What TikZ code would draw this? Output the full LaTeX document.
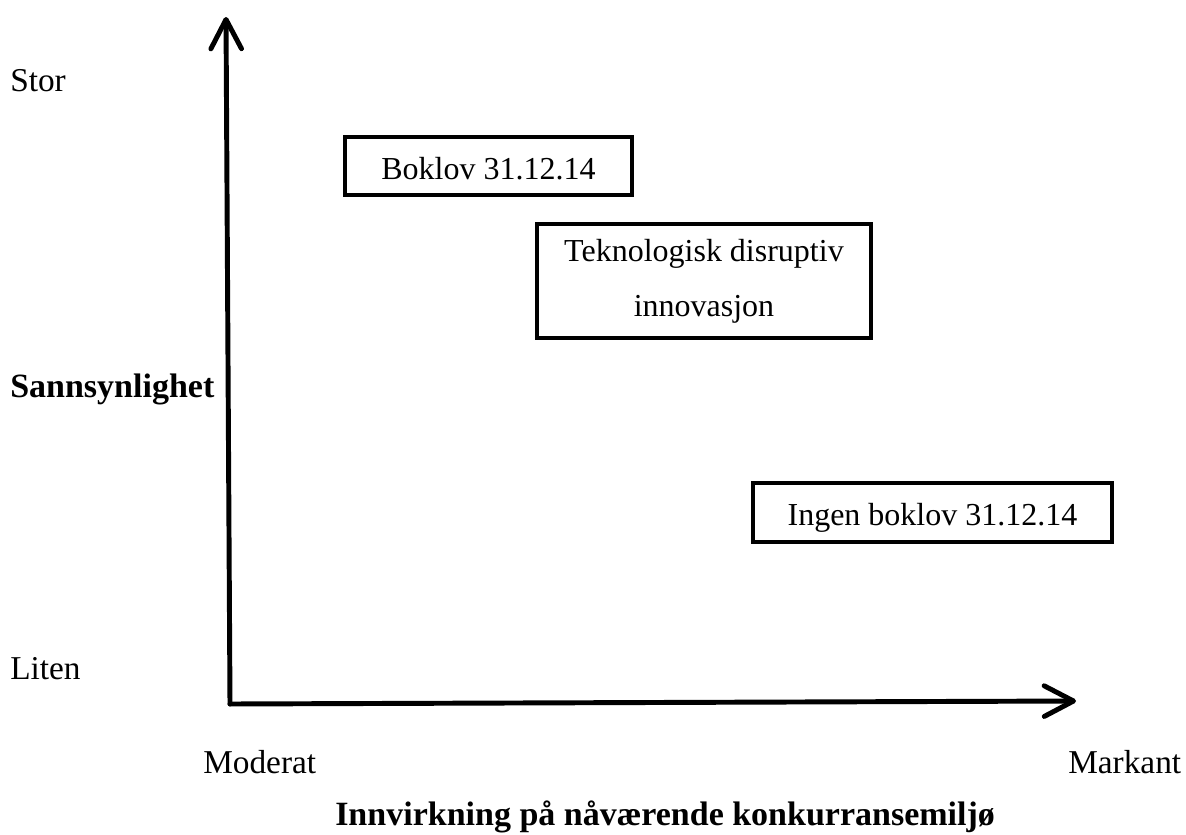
\documentclass[tikz,border=0pt]{standalone}
\usepackage{fontspec}
\setmainfont{Liberation Serif}
\usetikzlibrary{arrows.meta, positioning}

\begin{document}
\begin{tikzpicture}[
    x=0.75pt, y=-0.75pt,
    axis/.style={line width=3.7pt, line cap=round,
                 -{Straight Barb[length=22pt, width=23pt, round]}},
    box/.style={rectangle, draw=black, line width=3.7pt, fill=white,
                font=\fontsize{24}{41}\selectfont, align=center,
                inner sep=0pt},
    oneline/.style={text height=20pt, text depth=0pt},
    lab/.style={font=\fontsize{25}{30}\selectfont, anchor=base west, inner sep=0pt},
    blab/.style={lab, font=\bfseries\fontsize{25.5}{30}\selectfont}
  ]
  \useasboundingbox (0,0) rectangle (1186,835);

  % axes
  \coordinate (origin) at (230,704);
  \coordinate (ytop)   at (226,17);
  \coordinate (xend)   at (1076,701);
  \draw[axis] (origin) -- (ytop);
  \draw[axis] (origin) -- (xend);

  % scale labels
  \node[lab]  (stor)    at (10,91)   {Stor};
  \node[blab] (sann)    at (10,397)  {Sannsynlighet};
  \node[lab]  (liten)   at (10,679)  {Liten};
  \node[lab]  (moderat) at (203,773) {Moderat};
  \node[lab]  (markant) at (1068,773) {Markant};
  \node[blab] (innv)    at (335,825) {Innvirkning på nåværende konkurransemiljø};

  % scenarios
  \node[box, oneline, minimum width=287*0.75pt, minimum height=58*0.75pt]
    (boklov) at (488.5,166) {Boklov 31.12.14};
  \node[box, minimum width=334*0.75pt, minimum height=114*0.75pt]
    (tekno) at (704,281) {Teknologisk disruptiv\\innovasjon};
  \node[box, oneline, minimum width=359*0.75pt, minimum height=59*0.75pt]
    (ingen) at (932.5,512.5) {Ingen boklov 31.12.14};

\end{tikzpicture}
\end{document}
